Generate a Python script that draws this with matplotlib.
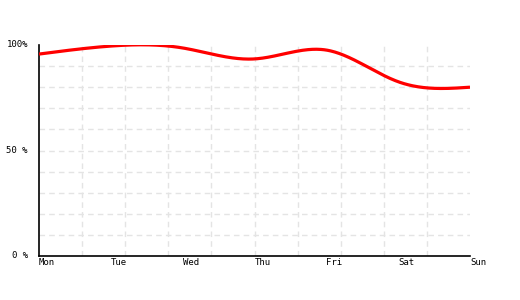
import numpy as np
import matplotlib
matplotlib.use('Agg')
import matplotlib.pyplot as plt

days = ['Mon', 'Tue', 'Wed', 'Thu', 'Fri', 'Sat', 'Sun']
uptime = [95.7, 99.5, 98.6, 93.4, 97.6, 82.6, 80.0]
ytick_vals = [0, 50, 100]
ytick_labels = ['0 %', '50 %', '100%']

def natural_spline(x, y, xs):
    # plain natural cubic spline, only used to draw a smooth line
    x = np.asarray(x, float)
    y = np.asarray(y, float)
    n = len(x)
    h = np.diff(x)
    A = np.zeros((n, n))
    b = np.zeros(n)
    A[0, 0] = A[-1, -1] = 1
    for i in range(1, n-1):
        A[i, i-1] = h[i-1]
        A[i, i] = 2*(h[i-1]+h[i])
        A[i, i+1] = h[i]
        b[i] = 6*((y[i+1]-y[i])/h[i] - (y[i]-y[i-1])/h[i-1])
    M = np.linalg.solve(A, b)
    idx = np.clip(np.searchsorted(x, xs) - 1, 0, n-2)
    x0, x1 = x[idx], x[idx+1]
    hh = x1 - x0
    t0, t1 = x1 - xs, xs - x0
    return (M[idx]*t0**3 + M[idx+1]*t1**3)/(6*hh) + (y[idx]/hh - M[idx]*hh/6)*t0 + (y[idx+1]/hh - M[idx+1]*hh/6)*t1

xpos = np.arange(len(days))
xs = np.linspace(0, len(days)-1, 400)
ys = natural_spline(xpos, uptime, xs)

fig = plt.figure(figsize=(5.2, 3.0), dpi=100)
ax = fig.add_axes([39/520, 44/300, 431/520, 211/300])

for k in range(1, 10):
    ax.axvline(0.6*k, color='#e4e4e4', lw=1, ls=(0, (4, 3)), zorder=0)
    ax.axhline(10*k, color='#e4e4e4', lw=1, ls=(0, (4, 3)), zorder=0)

ax.plot(xs, ys, color='#ff0000', lw=2.3, solid_capstyle='butt', zorder=3)

ax.set_xlim(0, len(days)-1)
ax.set_ylim(0, 100)
ax.spines['top'].set_visible(False)
ax.spines['right'].set_visible(False)
ax.spines['left'].set_linewidth(1.2)
ax.spines['bottom'].set_linewidth(1.2)

ax.set_xticks(xpos)
ax.set_xticklabels(days, family='DejaVu Sans Mono', fontsize=6.5, ha='left')
ax.set_yticks(ytick_vals)
ax.set_yticklabels(ytick_labels, family='DejaVu Sans Mono', fontsize=6.5, va='center')
ax.tick_params(length=0)
ax.tick_params(axis='x', pad=1.5)
ax.tick_params(axis='y', pad=8)

fig.savefig('out.png', dpi=100)
